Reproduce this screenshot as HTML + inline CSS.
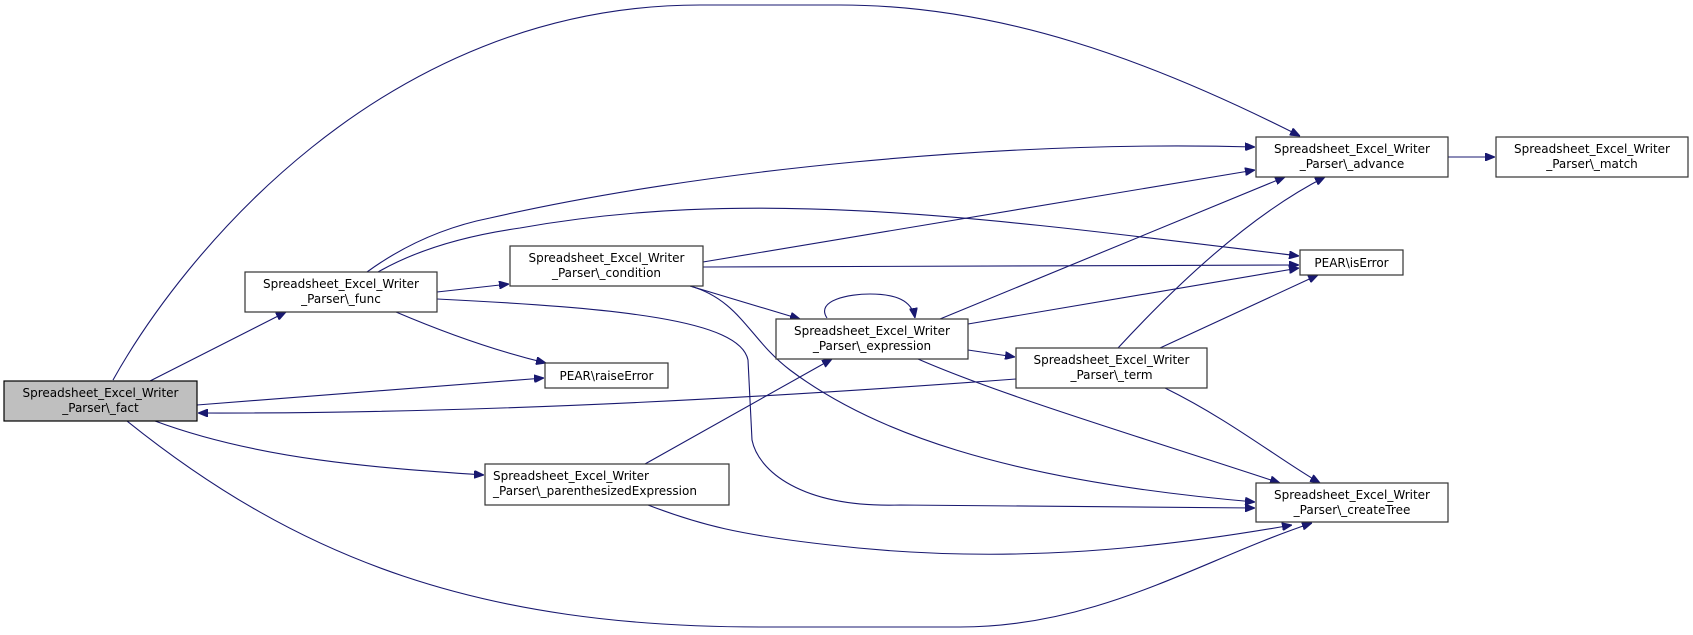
<!DOCTYPE html>
<html><head><meta charset="utf-8"><style>
html,body{margin:0;padding:0;background:#fff;}
svg{display:block;}
text{font-family:"DejaVu Sans","Liberation Sans",sans-serif;font-size:12px;fill:#000;}
.e{fill:none;stroke:#191970;stroke-width:1.1;}
.n{fill:#fff;stroke:#333;stroke-width:1.2;}
</style></head><body>
<svg width="1693" height="635" viewBox="0 0 1693 635" xmlns="http://www.w3.org/2000/svg">
<defs>
<marker id="a" viewBox="0 0 10 8" refX="10" refY="4" markerWidth="10" markerHeight="8" markerUnits="userSpaceOnUse" orient="auto">
<path d="M0,0 L10,4 L0,8 Z" fill="#191970" stroke="#191970"/>
</marker>
</defs>
<g marker-end="url(#a)">
<path class="e" d="M113,380 C180,260 380,5 700,5 L840,5 C1000,5 1150,60 1300,136"/>
<path class="e" d="M367,272 C400,248 440,228 490,218 C700,170 1000,140 1255,147"/>
<path class="e" d="M378,272 C420,248 470,235 520,228 C760,185 1000,220 1299,256"/>
<path class="e" d="M437,292 L509,284"/>
<path class="e" d="M396,312 C450,335 500,352 546,363"/>
<path class="e" d="M437,299 C620,308 740,320 748,360 L752,440 C758,470 800,508 900,505 L1255,508"/>
<path class="e" d="M150,381 L286,312"/>
<path class="e" d="M197,405 L544,378"/>
<path class="e" d="M1016,379 C800,395 500,414 198,413"/>
<path class="e" d="M155,421 C260,460 380,468 484,475"/>
<path class="e" d="M127,421 C300,560 480,627 760,627 L960,627 C1100,627 1200,560 1312,523"/>
<path class="e" d="M703,262 L1255,170"/>
<path class="e" d="M703,267 L1299,265"/>
<path class="e" d="M690,286 L800,319"/>
<path class="e" d="M690,286 C740,300 750,340 790,370 C870,430 1000,480 1255,502"/>
<path class="e" d="M827,318 C815,300 850,294 870,294 C895,294 912,300 915,318"/>
<path class="e" d="M940,319 L1285,177"/>
<path class="e" d="M968,324 L1299,268"/>
<path class="e" d="M968,350 L1015,357"/>
<path class="e" d="M918,359 C1000,395 1150,440 1280,483"/>
<path class="e" d="M1118,348 C1190,270 1260,210 1325,177"/>
<path class="e" d="M1160,348 L1318,275"/>
<path class="e" d="M1165,388 C1230,420 1280,460 1320,483"/>
<path class="e" d="M645,464 L832,359"/>
<path class="e" d="M648,505 C700,525 740,535 830,545 C1000,565 1150,550 1292,525"/>
<path class="e" d="M1448,157 L1495,157"/>
</g>
<rect x="4" y="381" width="193" height="40" fill="#bfbfbf" stroke="#000" stroke-width="1.2"/>
<text x="100.5" y="397" text-anchor="middle">Spreadsheet_Excel_Writer</text>
<text x="100.5" y="412" text-anchor="middle">_Parser\_fact</text>
<rect class="n" x="245" y="272" width="192" height="40"/>
<text x="341" y="288" text-anchor="middle">Spreadsheet_Excel_Writer</text>
<text x="341" y="303" text-anchor="middle">_Parser\_func</text>
<rect class="n" x="510" y="246" width="193" height="40"/>
<text x="606.5" y="262" text-anchor="middle">Spreadsheet_Excel_Writer</text>
<text x="606.5" y="277" text-anchor="middle">_Parser\_condition</text>
<rect class="n" x="545" y="363" width="123" height="25"/>
<text x="606.5" y="380" text-anchor="middle">PEAR\raiseError</text>
<rect class="n" x="485" y="464" width="244" height="41"/>
<text x="493" y="480">Spreadsheet_Excel_Writer</text>
<text x="493" y="495">_Parser\_parenthesizedExpression</text>
<rect class="n" x="776" y="319" width="192" height="40"/>
<text x="872" y="335" text-anchor="middle">Spreadsheet_Excel_Writer</text>
<text x="872" y="350" text-anchor="middle">_Parser\_expression</text>
<rect class="n" x="1016" y="348" width="191" height="40"/>
<text x="1111.5" y="364" text-anchor="middle">Spreadsheet_Excel_Writer</text>
<text x="1111.5" y="379" text-anchor="middle">_Parser\_term</text>
<rect class="n" x="1256" y="137" width="192" height="40"/>
<text x="1352" y="153" text-anchor="middle">Spreadsheet_Excel_Writer</text>
<text x="1352" y="168" text-anchor="middle">_Parser\_advance</text>
<rect class="n" x="1496" y="137" width="192" height="40"/>
<text x="1592" y="153" text-anchor="middle">Spreadsheet_Excel_Writer</text>
<text x="1592" y="168" text-anchor="middle">_Parser\_match</text>
<rect class="n" x="1300" y="250" width="103" height="25"/>
<text x="1351.5" y="267" text-anchor="middle">PEAR\isError</text>
<rect class="n" x="1256" y="483" width="192" height="39"/>
<text x="1352" y="499" text-anchor="middle">Spreadsheet_Excel_Writer</text>
<text x="1352" y="514" text-anchor="middle">_Parser\_createTree</text>
</svg>
</body></html>
